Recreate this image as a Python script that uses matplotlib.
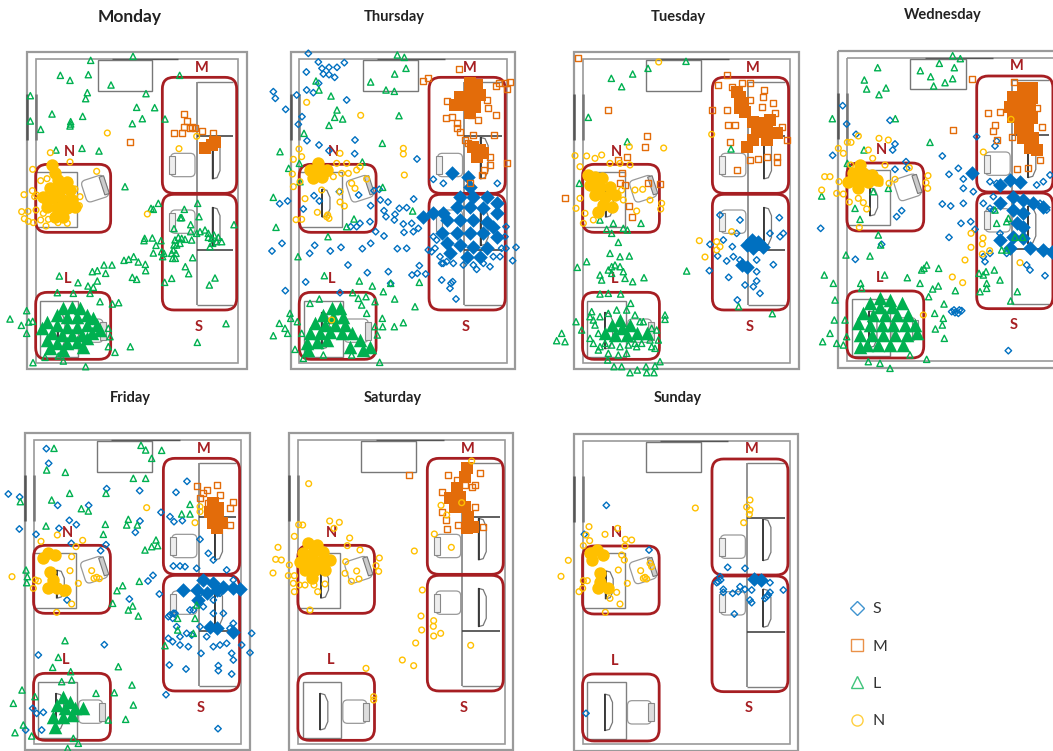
import matplotlib
matplotlib.use("Agg")
import matplotlib.pyplot as plt
from matplotlib.lines import Line2D
from matplotlib.patches import FancyBboxPatch, Polygon, Rectangle
from matplotlib.transforms import Affine2D

W, H = 1053, 751

MON_L = [(399,169),(272,181),(181,226),(265,224),(210,241),(333,255),(262,278),(257,296),(91,287),(438,281),(539,226),(410,322),(464,323),(156,342),(248,349),(91,363),(122,388),(212,365),(212,372),(210,378),(397,371),(427,356),(495,357),(246,445),(297,453),(168,450),(375,560),(453,625),(475,610),(460,628),(593,610),(553,628),(597,650),(541,653),(545,653),(572,674),(522,686),(702,674),(432,722),(434,715),(457,714),(483,722),(468,736),(460,759),(485,755),(492,760),(488,770),(578,773),(556,800),(566,821),(515,835),(494,847),(645,834),(628,855),(372,781),(386,778),(401,770),(415,786),(436,793),(437,812),(397,832),(410,838),(312,795),(336,795),(277,815),(292,812),(317,820),(178,828),(234,848),(264,858),(280,862),(292,843),(172,878),(220,880),(270,880),(300,905),(337,912),(356,908),(30,957),(80,932),(64,976),(86,966),(98,964),(80,1000),(325,1040),(345,1057),(391,1040),(678,971),(592,1027),(99,1088),(190,1083),(257,1100),(135,1072),(175,1068),(325,985),(330,1010),(525,720),(530,735),(520,750),(518,775),(535,712),(528,760),(545,715),(572,695),(590,700),(600,695),(615,690),(625,700),(635,715),(650,725),(665,725),(630,740),(575,720),(555,718),(522,735),(515,760),(526,775),(540,730),(625,712),(642,705),(655,712),(638,730)]
MON_L_DENSE = [(215,920),(190,925),(240,925),(170,945),(200,950),(230,950),(260,945),(280,955),(140,965),(170,975),(200,980),(230,980),(260,975),(290,975),(125,985),(155,1000),(185,1005),(215,1005),(245,1005),(275,1000),(300,990),(140,1020),(170,1030),(200,1030),(230,1025),(260,1015),(190,1050),(250,1040),(150,1045)]
MON_N = [(151,458),(210,486),(98,508),(290,514),(122,542),(141,536),(72,584),(97,572),(104,590),(65,635),(84,634),(73,656),(85,664),(100,668),(138,678),(122,660),(130,640),(174,668),(202,670),(225,567),(240,590),(238,617),(210,590),(322,399),(537,446),(442,642),(590,409),(108,630),(145,658),(110,585)]
MON_N_DENSE = [(155,495),(165,520),(175,540),(200,545),(150,565),(180,570),(210,570),(130,590),(160,595),(190,600),(215,600),(140,620),(170,625),(200,625),(225,620),(165,650),(190,650),(140,600)]
MON_M = [(553,343),(560,363),(552,380),(570,385),(522,398),(545,400),(585,385),(606,393),(640,400),(391,427),(575,380)]
MON_M_DENSE = [(615,445),(635,435),(645,425)]

THU_S = [(145,160),(175,186),(253,188),(139,216),(186,205),(207,202),(231,202),(190,222),(207,224),(224,232),(176,250),(140,270),(160,278),(40,275),(46,295),(110,285),(260,300),(77,328),(126,350),(115,373),(141,422),(177,435),(285,420),(207,452),(284,461),(471,477),(59,611),(83,603),(162,587),(178,603),(130,627),(238,575),(296,585),(342,572),(358,568),(361,600),(384,606),(332,617),(461,597),(372,632),(378,650),(405,643),(418,625),(440,623),(330,665),(272,680),(290,680),(300,670),(347,695),(372,708),(403,660),(430,672),(432,697),(455,670),(460,695),(475,685),(66,730),(36,753),(149,760),(164,736),(211,753),(243,742),(307,746),(332,730),(412,746),(440,745),(264,795),(322,818),(385,815),(478,797),(472,820),(456,825),(497,822),(545,840),(137,846),(392,850),(76,872),(240,878),(588,897),(573,850),(570,865),(578,845),(550,790),(520,710),(505,750),(515,755),(530,720),(545,790),(650,808),(690,800),(720,770),(738,745),(768,742),(758,782),(738,680),(712,550),(520,538),(550,550),(525,745),(540,770),(560,785),(580,790),(610,795),(640,795),(670,790),(700,770),(725,745),(735,710)]
THU_S_DENSE = [(490,650),(520,640),(550,640),(575,520),(625,530),(630,560),(600,590),(640,590),(680,590),(710,610),(590,620),(630,620),(670,625),(710,640),(560,660),(600,660),(640,660),(680,665),(590,700),(630,700),(670,700),(710,710),(560,730),(600,735),(640,740),(680,745),(570,760),(620,770),(660,770),(545,700),(700,680)]
THU_M = [(597,207),(488,243),(505,233),(750,245),(735,248),(718,250),(708,258),(742,268),(560,302),(557,355),(577,352),(685,325),(707,345),(632,345),(655,360),(590,370),(600,395),(590,385),(615,420),(640,405),(702,406),(625,430),(690,495),(740,490),(672,510),(665,525),(630,550),(690,470),(680,300)]
THU_M_DENSE = [(630,250),(650,255),(600,290),(630,285),(660,285),(585,315),(615,315),(645,320),(630,340),(640,440),(660,450),(650,470),(670,460)]
THU_L = [(412,165),(433,172),(438,205),(404,222),(332,246),(378,270),(403,274),(168,243),(177,270),(213,288),(231,330),(224,352),(248,357),(207,376),(417,347),(132,400),(367,430),(60,455),(86,505),(120,545),(40,592),(48,682),(204,710),(114,770),(193,827),(298,843),(337,858),(370,875),(392,850),(404,897),(465,920),(478,847),(278,878),(295,895),(318,890),(345,905),(178,897),(260,680),(282,657),(458,633),(368,562),(307,486),(118,490),(367,955),(368,980),(403,980),(430,968),(345,980),(352,1005),(359,1087),(40,1007),(58,970),(75,985),(83,1000),(90,940),(92,955),(105,1048),(130,1075),(190,1065),(275,1065),(112,965),(125,1000),(150,910),(305,915),(320,940)]
THU_L_DENSE = [(215,925),(240,925),(190,945),(220,950),(250,950),(165,970),(195,975),(225,975),(255,975),(150,1000),(180,1000),(210,995),(245,1000),(275,1000),(140,1030),(170,1025),(200,1020),(300,1020),(330,1040),(310,1050),(145,1050),(270,1040)]
THU_N = [(117,447),(140,307),(302,346),(430,445),(430,462),(433,525),(100,478),(125,470),(97,522),(100,560),(120,545),(135,596),(172,637),(108,659),(125,658),(240,606),(253,618),(240,575),(285,565),(275,550),(320,537),(300,500),(260,490),(240,460),(230,490),(220,530),(245,520),(265,520),(290,510),(185,570),(205,520),(215,960),(200,650),(207,655),(203,645)]
THU_N_DENSE = [(175,490),(150,510),(175,515),(200,510),(160,535),(185,530)]

TUE_M = [(114,174),(205,329),(75,595),(322,407),(316,442),(262,470),(268,617),(276,652),(360,551),(325,550),(590,510),(560,225),(533,255),(607,250),(630,250),(672,270),(517,330),(560,330),(565,375),(585,375),(570,427),(655,478),(712,470),(712,485),(680,470),(630,480),(740,420),(725,380),(700,310),(670,290),(665,320),(705,340),(630,300),(575,262),(240,550),(245,520),(235,480),(255,555)]
TUE_M_DENSE = [(590,275),(600,290),(610,310),(615,335),(640,365),(670,370),(690,360),(650,395),(680,395),(710,400),(680,420),(640,420),(620,440),(600,325)]
TUE_S = [(540,645),(600,660),(718,653),(590,700),(577,740),(550,720),(510,733),(533,768),(560,783),(508,812),(566,832),(600,780),(580,770),(650,815),(700,794),(615,855),(640,860),(660,880),(650,843),(592,900),(730,700),(720,710),(690,700),(650,780)]
TUE_S_DENSE = [(635,720),(655,725),(620,735),(670,740),(640,745),(620,800),(605,795)]
TUE_N = [(105,467),(140,468),(165,475),(185,465),(210,490),(240,490),(270,495),(268,440),(371,444),(120,500),(120,595),(108,625),(130,670),(160,660),(250,600),(290,633),(365,610),(362,627),(285,570),(308,568),(330,600),(356,186),(478,722),(495,771),(515,403),(530,725),(540,740),(530,750),(575,695),(245,570),(135,640)]
TUE_N_DENSE = [(165,530),(145,525),(185,535),(150,555),(180,560),(210,560),(165,585),(195,590),(225,585),(190,615),(215,620),(175,635)]
TUE_L = [(438,184),(278,222),(324,205),(214,235),(245,260),(145,352),(262,425),(118,550),(180,660),(220,670),(200,688),(215,700),(250,685),(262,690),(303,670),(235,727),(210,760),(268,768),(140,785),(112,802),(240,770),(180,825),(185,840),(255,835),(278,845),(312,833),(440,813),(242,882),(205,880),(180,882),(272,910),(375,945),(375,958),(108,965),(65,1000),(50,1022),(75,1025),(125,990),(350,990),(355,1020),(345,1045),(175,1050),(290,1040),(203,1080),(222,1100),(245,1100),(270,1118),(292,1110),(318,1100),(345,1098),(360,1085),(320,1118),(342,1118),(596,920),(697,941),(573,447),(155,935),(160,960),(300,965),(205,810),(225,795),(250,815),(215,820),(215,800),(240,800),(150,950),(165,975),(175,1000),(160,1030),(180,1040),(195,1030),(215,1035),(240,1040),(265,1035),(285,1030),(305,1030),(330,1020),(335,985),(310,965),(285,945),(260,930),(230,930),(205,940),(180,950),(150,1015),(335,1040),(205,1060),(235,1065),(260,1060)]
TUE_L_DENSE = [(240,960),(215,975),(245,985),(270,975),(195,1000),(225,1005),(260,1005),(290,1000),(320,1000)]

WED_M = [(485,236),(612,245),(534,340),(570,335),(555,375),(548,392),(430,390),(605,410),(560,420),(622,508),(655,505),(695,380),(680,325),(690,480)]
WED_M_DENSE = [(640,265),(665,265),(610,290),(640,295),(665,295),(600,320),(630,325),(660,325),(610,350),(640,355),(665,355),(630,385),(655,385),(640,415),(670,415),(660,445),(680,450)]
WED_S = [(98,317),(110,372),(240,361),(138,403),(255,432),(248,450),(68,466),(397,468),(500,410),(555,438),(560,423),(417,523),(445,505),(460,537),(460,565),(490,575),(255,508),(288,485),(290,505),(397,612),(422,618),(460,610),(275,632),(260,650),(453,670),(482,665),(495,688),(417,712),(32,685),(136,778),(215,733),(705,827),(660,810),(650,795),(595,1052),(525,785),(520,770),(540,760),(540,545),(560,550),(680,555),(700,545),(720,525),(550,590),(520,610),(690,610),(710,630),(570,700),(590,760),(425,935),(435,938),(445,940),(455,932),(432,930),(448,930),(540,625),(550,630)]
WED_S_DENSE = [(485,520),(600,540),(630,545),(570,555),(610,590),(640,600),(670,610),(700,620),(570,610),(610,630),(640,640),(620,670),(640,680),(610,710),(640,715),(570,720),(660,745),(600,745),(700,750),(725,755)]
WED_L = [(428,167),(451,176),(203,203),(388,190),(433,203),(331,212),(362,230),(428,236),(405,248),(371,258),(163,240),(170,267),(228,264),(207,284),(67,356),(256,356),(360,427),(162,450),(112,490),(35,588),(135,625),(150,658),(205,705),(212,735),(108,765),(180,768),(43,825),(70,850),(224,825),(292,833),(386,805),(152,850),(155,865),(330,850),(385,858),(368,867),(356,890),(436,872),(402,912),(374,940),(400,955),(397,975),(376,987),(403,1015),(75,900),(73,960),(60,1000),(38,1025),(80,1030),(100,1035),(105,960),(110,1010),(350,1078),(240,1105),(210,1090),(175,1085),(300,1065),(520,825),(507,820),(528,815),(553,810),(570,840),(530,850),(530,865),(510,875),(622,875),(602,903),(590,665),(560,670),(590,750),(575,750),(615,712),(638,712),(555,630),(595,655),(342,805),(350,795),(335,810),(190,575),(235,565)]
WED_L_DENSE = [(210,895),(240,900),(180,910),(210,920),(245,920),(275,910),(160,940),(190,945),(225,945),(260,945),(295,945),(145,970),(180,975),(215,975),(250,975),(285,975),(315,975),(150,1005),(185,1005),(220,1005),(255,1005),(290,1005),(320,1000),(170,1035),(205,1035),(240,1035),(280,1035),(150,1040)]
WED_N = [(145,408),(112,427),(123,427),(207,415),(235,420),(85,445),(100,460),(175,450),(188,475),(44,530),(60,530),(87,545),(35,570),(80,580),(100,582),(118,606),(145,595),(160,608),(170,627),(225,495),(298,503),(255,538),(237,550),(354,527),(348,548),(353,565),(210,550),(603,358),(520,456),(483,700),(519,714),(517,732),(483,742),(539,752),(517,762),(465,780),(427,831),(458,848),(340,945),(630,788),(148,682),(122,495)]
WED_N_DENSE = [(150,495),(130,520),(160,520),(185,525),(115,545),(145,545),(175,545),(200,540),(145,565)]

FRI_S = [(139,206),(146,250),(25,342),(59,351),(173,376),(266,376),(320,326),(419,332),(561,304),(528,337),(483,397),(510,410),(522,425),(547,422),(420,423),(406,457),(229,434),(208,421),(177,445),(58,447),(108,463),(214,490),(318,494),(302,512),(459,586),(444,603),(478,642),(388,657),(201,660),(313,794),(115,825),(98,985),(110,1000),(130,997),(77,1050),(125,1050),(654,1046),(498,944),(695,882),(655,857),(655,872),(558,867),(508,855),(750,818),(725,795),(755,760),(695,820),(700,840),(603,820),(565,800),(540,795),(518,785),(505,775),(530,740),(505,710),(520,700),(625,520),(640,540),(600,478),(520,558),(540,558),(555,560),(590,565),(580,690),(610,680),(640,700),(670,700),(570,690),(600,640),(660,640),(700,600),(680,570),(640,660),(660,795),(640,800),(680,790),(620,770),(575,765),(560,760),(600,740),(540,770),(690,745),(700,730),(510,705),(518,715),(525,700)]
FRI_S_DENSE = [(610,600),(640,610),(670,620),(700,625),(720,628),(590,630),(550,630),(620,640),(650,630),(595,660),(630,740),(650,745),(700,755)]
FRI_M = [(590,318),(620,330),(650,315),(610,340),(700,365),(690,385),(690,435),(660,345),(625,370),(600,355)]
FRI_M_DENSE = [(640,370),(655,385),(630,395),(655,410),(640,430),(665,430),(650,445)]
FRI_N = [(36,590),(100,625),(106,600),(115,603),(170,697),(440,383),(600,380),(585,428),(600,395),(228,500),(248,481),(172,465),(123,484),(215,530),(210,572),(235,610),(275,572),(215,672),(190,640),(282,595),(290,592),(298,596)]
FRI_N_DENSE = [(145,520),(165,525),(130,535),(150,575),(160,600),(145,625),(170,625),(195,630)]
FRI_L = [(162,205),(423,196),(437,210),(485,211),(455,235),(140,270),(196,277),(400,295),(437,295),(318,340),(155,360),(209,340),(61,365),(244,386),(265,393),(570,373),(570,402),(545,402),(385,418),(380,435),(412,435),(316,433),(138,438),(310,463),(435,510),(455,500),(473,497),(468,480),(78,570),(82,590),(80,608),(368,617),(351,632),(418,604),(338,670),(398,678),(385,690),(415,708),(590,675),(533,715),(585,715),(580,760),(533,750),(495,797),(195,782),(175,832),(158,862),(212,875),(355,860),(66,930),(40,970),(396,915),(343,938),(400,975),(377,1018),(325,1020),(288,940),(70,1035),(45,1058),(95,1068),(203,1105),(235,1090),(220,1075),(105,950),(215,900),(185,905)]
FRI_L_DENSE = [(190,950),(210,965),(170,975),(195,985),(225,985),(250,985),(160,1010),(190,1010),(215,1005),(165,1040)]

SAT_N = [(131,311),(194,423),(223,427),(101,434),(113,435),(207,445),(88,469),(39,502),(32,538),(49,540),(24,579),(73,555),(70,587),(88,587),(85,610),(88,635),(103,615),(120,615),(147,615),(180,612),(158,635),(135,690),(254,474),(247,497),(285,510),(242,545),(343,534),(333,557),(341,574),(240,580),(275,573),(282,597),(259,604),(448,513),(472,630),(468,708),(506,722),(505,739),(470,750),(506,768),(527,760),(452,789),(412,840),(446,857),(303,865),(326,950),(326,960),(617,796),(559,502),(508,462),(528,376),(545,405),(590,368),(620,243)]
SAT_N_DENSE = [(130,490),(155,495),(115,520),(145,520),(175,515),(105,545),(135,545),(165,545),(195,540),(120,570),(150,570),(180,570),(140,595)]
SAT_M = [(432,285),(550,285),(645,280),(630,315),(620,322),(532,337),(575,300),(600,315),(530,395),(543,420),(545,448),(578,435),(655,440),(630,380)]
SAT_M_DENSE = [(605,265),(600,290),(575,325),(555,355),(585,350),(570,380),(600,380),(610,410),(625,440),(605,445)]

SUN_S = [(169,376),(103,463),(297,510),(533,562),(585,565),(510,590),(505,605),(520,628),(520,637),(548,640),(565,635),(570,620),(585,628),(605,630),(600,660),(605,668),(553,702),(660,608),(700,630),(660,637),(108,1000),(650,650),(635,600),(645,655),(655,645),(500,608),(512,600)]
SUN_S_DENSE = [(612,597),(632,600)]
SUN_N = [(117,440),(165,463),(203,445),(108,465),(119,482),(226,478),(245,480),(100,497),(225,498),(215,525),(223,540),(55,541),(33,589),(100,602),(112,602),(87,635),(98,625),(200,637),(205,570),(232,610),(210,672),(166,697),(180,655),(272,572),(285,592),(300,550),(305,560),(436,384),(600,360),(590,381),(600,390),(598,403),(581,428),(280,595),(290,597)]
SUN_N_DENSE = [(140,510),(120,520),(160,525),(125,540),(150,580),(150,605),(145,625),(175,625)]

DAYS = ["Monday", "Thursday", "Tuesday", "Wednesday", "Friday", "Saturday", "Sunday"]
SERIES = ["S", "M", "L", "N"]
DAY_POINTS = {
    "Monday": {"M": (MON_M, MON_M_DENSE), "L": (MON_L, MON_L_DENSE), "N": (MON_N, MON_N_DENSE)},
    "Thursday": {"S": (THU_S, THU_S_DENSE), "M": (THU_M, THU_M_DENSE), "L": (THU_L, THU_L_DENSE), "N": (THU_N, THU_N_DENSE)},
    "Tuesday": {"S": (TUE_S, TUE_S_DENSE), "M": (TUE_M, TUE_M_DENSE), "L": (TUE_L, TUE_L_DENSE), "N": (TUE_N, TUE_N_DENSE)},
    "Wednesday": {"S": (WED_S, WED_S_DENSE), "M": (WED_M, WED_M_DENSE), "L": (WED_L, WED_L_DENSE), "N": (WED_N, WED_N_DENSE)},
    "Friday": {"S": (FRI_S, FRI_S_DENSE), "M": (FRI_M, FRI_M_DENSE), "L": (FRI_L, FRI_L_DENSE), "N": (FRI_N, FRI_N_DENSE)},
    "Saturday": {"M": (SAT_M, SAT_M_DENSE), "N": (SAT_N, SAT_N_DENSE)},
    "Sunday": {"S": (SUN_S, SUN_S_DENSE), "N": (SUN_N, SUN_N_DENSE)},
}

# crop of the figure in pixels, room origin inside the crop and x stretch of the room
PANELS = {
    "Monday": ((0, 0, 260, 380), 82, 157, 1.0),
    "Thursday": ((260, 0, 270, 380), 92, 157, 1.025),
    "Tuesday": ((540, 0, 270, 380), 102, 157, 1.025),
    "Wednesday": ((810, 0, 243, 380), 85, 153, 1.025),
    "Friday": ((0, 380, 270, 371), 75, 160, 1.025),
    "Saturday": ((265, 380, 270, 371), 73, 160, 1.022),
    "Sunday": ((550, 380, 270, 371), 72, 162, 1.022),
}
TITLE_POS = {
    "Monday": (130, 17), "Thursday": (394, 17), "Tuesday": (678, 17), "Wednesday": (943, 15),
    "Friday": (130, 398), "Saturday": (393, 398), "Sunday": (678, 398),
}

COLORS = {"S": "#0070C0", "M": "#E36C0A", "L": "#00B050", "N": "#FFC000"}
MARKERS = {"S": "D", "M": "s", "L": "^", "N": "o"}
SIZES = {"S": 11, "M": 17, "L": 20, "N": 17}
DENSE_SIZES = {"S": 55, "M": 70, "L": 95, "N": 80}
RED = "#A61E22"
GREY = "#9A9A9A"
DARK = "#555555"


def round_box(ax, x, y, w, h, r, ec, lw, fc="none", z=2, tr=None):
    box = FancyBboxPatch((x, y), w, h, boxstyle="round,pad=0,rounding_size=%d" % r,
                         ec=ec, fc=fc, lw=lw, zorder=z)
    if tr is not None:
        box.set_transform(tr + ax.transData)
    ax.add_patch(box)


def line(ax, xs, ys, color=GREY, lw=1.1, z=1):
    ax.plot(xs, ys, color=color, lw=lw, zorder=z, solid_capstyle="butt")


def draw_room(ax, ox, oy, sx):
    def X(v):
        return ox + v * sx

    def Y(v):
        return oy + v

    # walls
    ax.add_patch(Rectangle((X(0), Y(0)), 658 * sx, 950, fc="none", ec=GREY, lw=1.6, zorder=1))
    ax.add_patch(Rectangle((X(25), Y(20)), 608 * sx, 911, fc="none", ec=GREY, lw=1.2, zorder=1))
    line(ax, [X(0), X(0)], [Y(125), Y(263)], DARK, 1.8)
    line(ax, [X(25), X(25)], [Y(125), Y(263)], "#777777", 1.8)
    line(ax, [X(253), X(453)], [Y(20), Y(20)], DARK, 1.0)
    # table at the top
    ax.add_patch(Rectangle((X(211), Y(23)), 162 * sx, 92, fc="none", ec="#777777", lw=1.0, zorder=1))
    # M and S desks
    line(ax, [X(508), X(508)], [Y(88), Y(758)], "#808080", 1.2)
    line(ax, [X(508), X(618)], [Y(88), Y(88)], "#808080", 1.0)
    line(ax, [X(508), X(618)], [Y(758), Y(758)], "#808080", 1.0)
    line(ax, [X(508), X(618)], [Y(251), Y(251)], "#444444", 1.2)
    line(ax, [X(508), X(618)], [Y(593), Y(593)], "#444444", 1.2)
    # N and L desks
    ax.add_patch(Rectangle((X(25), Y(358)), 125 * sx, 165, fc="none", ec="#808080", lw=1.0, zorder=1))
    ax.add_patch(Rectangle((X(39), Y(745)), 113 * sx, 170, fc="none", ec="#808080", lw=1.0, zorder=1))
    # monitors
    for x0, y0, y1 in [(555, 255, 380), (555, 465, 580), (92, 410, 495), (90, 780, 890)]:
        ax.add_patch(Polygon([(X(x0), Y(y0)), (X(x0 + 14), Y(y0 + 4)), (X(x0 + 23), Y(y0 + 25)),
                              (X(x0 + 23), Y(y1 - 25)), (X(x0 + 14), Y(y1 - 4)), (X(x0), Y(y1))],
                             fc="white", ec="#777777", lw=0.9, zorder=1))
        line(ax, [X(x0 + 1), X(x0 + 1)], [Y(y0), Y(y1)], "#333333", 1.3)
    # chairs
    for cy, ch in [(303, 70), (473, 70)]:
        round_box(ax, X(430), Y(cy), 73 * sx, ch, 14, "#999999", 0.9, z=1)
        ax.add_patch(Rectangle((X(425), Y(cy + 8)), 18, ch - 16, fc="#EEEEEE", ec="#888888", lw=0.8, zorder=1))
    round_box(ax, X(157), Y(800), 70 * sx, 70, 14, "#999999", 0.9, z=1)
    ax.add_patch(Rectangle((X(217), Y(808)), 18, 54, fc="#DDDDDD", ec="#888888", lw=0.8, zorder=1))
    rot = Affine2D().rotate_deg_around(X(203), Y(408), -18)
    round_box(ax, X(168), Y(375), 70, 68, 14, "#999999", 0.9, z=1, tr=rot)
    back = Rectangle((X(225), Y(380)), 14, 56, fc="#CCCCCC", ec="#777777", lw=0.8, zorder=1)
    back.set_transform(rot + ax.transData)
    ax.add_patch(back)
    # red zones
    round_box(ax, X(405), Y(75), 223 * sx, 348, 35, RED, 2.0)
    round_box(ax, X(405), Y(426), 223 * sx, 347, 35, RED, 2.0)
    round_box(ax, X(25), Y(336), 225 * sx, 204, 35, RED, 2.0)
    round_box(ax, X(25), Y(720), 225 * sx, 201, 35, RED, 2.0)
    for label, lx, ly in [("M", 523, 46), ("S", 513, 823), ("N", 125, 298), ("L", 120, 681)]:
        ax.text(X(lx), Y(ly), label, color=RED, fontsize=10.5, fontweight="bold", family="Lato",
                ha="center", va="center", zorder=3)


fig = plt.figure(figsize=(W / 100, H / 100), dpi=100)

for day in DAYS:
    (cx, cy, cw, ch), ox, oy, sx = PANELS[day]
    ax = fig.add_axes([cx / W, 1 - (cy + ch) / H, cw / W, ch / H])
    ax.set_xlim(0, cw * 3)
    ax.set_ylim(ch * 3, 0)
    ax.axis("off")
    draw_room(ax, ox, oy, sx)
    z = 4
    for s in SERIES:
        if s not in DAY_POINTS[day]:
            continue
        pts, dense = DAY_POINTS[day][s]
        ax.scatter([p[0] for p in pts], [p[1] for p in pts], marker=MARKERS[s], s=SIZES[s],
                   facecolors="none", edgecolors=COLORS[s], linewidths=1.0, zorder=z, clip_on=False)
        ax.scatter([p[0] for p in dense], [p[1] for p in dense], marker=MARKERS[s], s=DENSE_SIZES[s],
                   color=COLORS[s], linewidths=0, zorder=z, clip_on=False)
        z += 1

for day in DAYS:
    tx, ty = TITLE_POS[day]
    fig.text(tx / W, 1 - ty / H, day, fontsize=12.5 if day == "Monday" else 10.5, fontweight="bold",
             family="Lato", color="#222222", ha="center", va="center")

handles = [Line2D([], [], linestyle="none", marker=MARKERS[s], markerfacecolor="none", markeredgecolor=COLORS[s],
                  markeredgewidth=1.0, markersize=7 if s == "S" else 8, alpha=0.75) for s in SERIES]
fig.legend(handles, SERIES, loc="upper left", bbox_to_anchor=(849 / W, 1 - 602 / H), frameon=False,
           labelspacing=1.45, handlelength=1.0, handletextpad=0.5, labelcolor="#333333",
           prop={"family": "Lato", "size": 11.5}, borderpad=0, borderaxespad=0)

fig.savefig("out.png", dpi=100)
